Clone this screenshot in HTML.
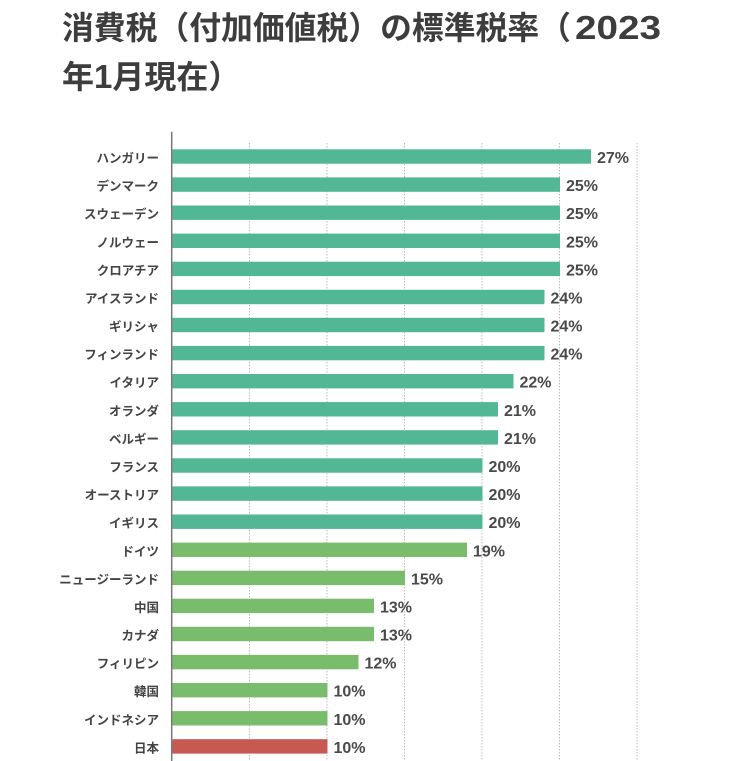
<!DOCTYPE html>
<html><head><meta charset="utf-8"><style>
html,body{margin:0;padding:0;background:#fff;}
svg{display:block;}
.t{font-family:"Liberation Sans","Noto Sans CJK JP",sans-serif;font-weight:bold;fill:#3d3d3d;}
.l{font-family:"Liberation Sans","Noto Sans CJK JP",sans-serif;font-weight:bold;font-size:12.5px;fill:#444;text-anchor:end;}
.v{font-family:"Liberation Sans",sans-serif;font-weight:bold;font-size:16px;fill:#4a4a4a;}
.a{fill:#52b795;}.g{fill:#79bd6c;}.r{fill:#c85852;}
</style></head><body>
<svg width="750" height="761" viewBox="0 0 750 761" xmlns="http://www.w3.org/2000/svg">
<rect width="750" height="761" fill="#fff"/>
<text class="t" x="62" y="39" font-size="32" textLength="509" lengthAdjust="spacingAndGlyphs">消費税（付加価値税）の標準税率（</text>
<text class="t" x="575" y="39" font-size="33" textLength="86" lengthAdjust="spacingAndGlyphs">2023</text>
<text class="t" x="62" y="88" font-size="32">年<tspan font-size="33">1</tspan>月現在）</text>

<g stroke="#bdbdbd" stroke-width="1" stroke-dasharray="1.5 1.5">
<line x1="249.5" y1="143" x2="249.5" y2="761"/>
<line x1="327" y1="143" x2="327" y2="761"/>
<line x1="404.5" y1="143" x2="404.5" y2="761"/>
<line x1="482" y1="143" x2="482" y2="761"/>
<line x1="559.5" y1="143" x2="559.5" y2="761"/>
<line x1="637" y1="143" x2="637" y2="761"/>
</g>

<g>
<rect class="a" x="172.5" y="149.3" width="418.5" height="14.4"/>
<rect class="a" x="172.5" y="177.4" width="387.5" height="14.4"/>
<rect class="a" x="172.5" y="205.5" width="387.5" height="14.4"/>
<rect class="a" x="172.5" y="233.6" width="387.5" height="14.4"/>
<rect class="a" x="172.5" y="261.7" width="387.5" height="14.4"/>
<rect class="a" x="172.5" y="289.8" width="372" height="14.4"/>
<rect class="a" x="172.5" y="317.8" width="372" height="14.4"/>
<rect class="a" x="172.5" y="345.9" width="372" height="14.4"/>
<rect class="a" x="172.5" y="374.0" width="341" height="14.4"/>
<rect class="a" x="172.5" y="402.1" width="325.5" height="14.4"/>
<rect class="a" x="172.5" y="430.2" width="325.5" height="14.4"/>
<rect class="a" x="172.5" y="458.3" width="310" height="14.4"/>
<rect class="a" x="172.5" y="486.4" width="310" height="14.4"/>
<rect class="a" x="172.5" y="514.5" width="310" height="14.4"/>
<rect class="g" x="172.5" y="542.6" width="294.5" height="14.4"/>
<rect class="g" x="172.5" y="570.7" width="232.5" height="14.4"/>
<rect class="g" x="172.5" y="598.7" width="201.5" height="14.4"/>
<rect class="g" x="172.5" y="626.8" width="201.5" height="14.4"/>
<rect class="g" x="172.5" y="654.9" width="186" height="14.4"/>
<rect class="g" x="172.5" y="683.0" width="155" height="14.4"/>
<rect class="g" x="172.5" y="711.1" width="155" height="14.4"/>
<rect class="r" x="172.5" y="739.2" width="155" height="14.4"/>
</g>

<line x1="171.7" y1="131.7" x2="171.7" y2="761" stroke="#777" stroke-width="1.5"/>

<g>
<text class="l" x="159" y="162.5">ハンガリー</text>
<text class="l" x="159" y="190.6">デンマーク</text>
<text class="l" x="159" y="218.7">スウェーデン</text>
<text class="l" x="159" y="246.8">ノルウェー</text>
<text class="l" x="159" y="274.9">クロアチア</text>
<text class="l" x="159" y="303.0">アイスランド</text>
<text class="l" x="159" y="331.0">ギリシャ</text>
<text class="l" x="159" y="359.1">フィンランド</text>
<text class="l" x="159" y="387.2">イタリア</text>
<text class="l" x="159" y="415.3">オランダ</text>
<text class="l" x="159" y="443.4">ベルギー</text>
<text class="l" x="159" y="471.5">フランス</text>
<text class="l" x="159" y="499.6">オーストリア</text>
<text class="l" x="159" y="527.7">イギリス</text>
<text class="l" x="159" y="555.8">ドイツ</text>
<text class="l" x="159" y="583.9">ニュージーランド</text>
<text class="l" x="159" y="611.9">中国</text>
<text class="l" x="159" y="640.0">カナダ</text>
<text class="l" x="159" y="668.1">フィリピン</text>
<text class="l" x="159" y="696.2">韓国</text>
<text class="l" x="159" y="724.3">インドネシア</text>
<text class="l" x="159" y="752.4">日本</text>
</g>

<g>
<text class="v" x="597" y="163">27%</text>
<text class="v" x="566" y="191.1">25%</text>
<text class="v" x="566" y="219.2">25%</text>
<text class="v" x="566" y="247.3">25%</text>
<text class="v" x="566" y="275.4">25%</text>
<text class="v" x="550.5" y="303.5">24%</text>
<text class="v" x="550.5" y="331.5">24%</text>
<text class="v" x="550.5" y="359.6">24%</text>
<text class="v" x="519.5" y="387.7">22%</text>
<text class="v" x="504" y="415.8">21%</text>
<text class="v" x="504" y="443.9">21%</text>
<text class="v" x="488.5" y="472.0">20%</text>
<text class="v" x="488.5" y="500.1">20%</text>
<text class="v" x="488.5" y="528.2">20%</text>
<text class="v" x="473" y="556.3">19%</text>
<text class="v" x="411" y="584.4">15%</text>
<text class="v" x="380" y="612.4">13%</text>
<text class="v" x="380" y="640.5">13%</text>
<text class="v" x="364.5" y="668.6">12%</text>
<text class="v" x="333.5" y="696.7">10%</text>
<text class="v" x="333.5" y="724.8">10%</text>
<text class="v" x="333.5" y="752.9">10%</text>
</g>
</svg>
</body></html>
